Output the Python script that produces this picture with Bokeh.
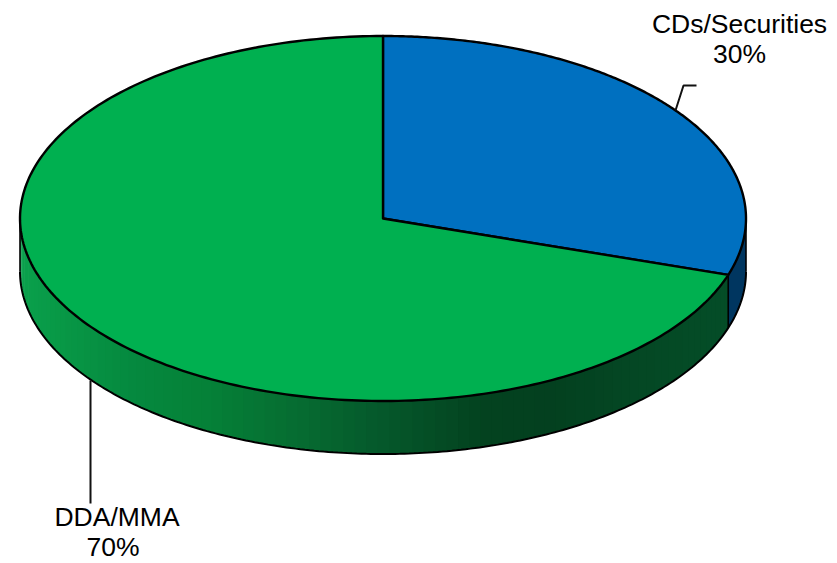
import numpy as np
from bokeh.embed import file_html
from bokeh.resources import INLINE
from bokeh.plotting import figure
from bokeh.core.properties import value

# Portfolio shares, clockwise from twelve o'clock
categories = ["CDs/Securities", "DDA/MMA"]
shares = [30, 70]
label_texts = ["CDs/Securities\n30%", "DDA/MMA\n70%"]
top_colors = ["#0070C0", "#00B050"]
outline = "#000000"

# Shading of the green rim, from the left edge of the disc to the right edge
rim_stop_x = [20, 60, 130, 200, 300, 380, 480, 550, 640, 746]
rim_stop_rgb = [
    (10, 160, 76), (8, 152, 70), (5, 137, 63), (5, 130, 56), (6, 107, 49),
    (5, 88, 43), (3, 66, 31), (3, 64, 31), (4, 72, 36), (4, 78, 40),
]
blue_rim = "#003660"

# Disc geometry on the page
cx, cy, rx, ry, depth = 382.5, 218.0, 363.0, 182.5, 53.0


def rim_point(turn):
    """Position on the top ellipse for a clockwise turn from twelve o'clock."""
    t = np.radians(turn)
    return cx + rx * np.sin(t), cy - ry * np.cos(t)


def arc(start, end, n=240):
    return rim_point(np.linspace(start, end, n))


def rim_color(x):
    channels = [np.interp(x, rim_stop_x, [c[i] for c in rim_stop_rgb]) for i in range(3)]
    return "#%02x%02x%02x" % tuple(int(round(c)) for c in channels)


p = figure(width=837, height=563, x_range=(0, 837), y_range=(563, 0),
           output_backend="svg", toolbar_location=None, min_border=0)
p.axis.visible = False
p.grid.visible = False
p.outline_line_color = None
p.background_fill_color = "#ffffff"
p.border_fill_color = "#ffffff"

edges = np.cumsum([0] + shares) * 3.6
split = edges[1]

# Blue part of the rim, visible between the slice boundary and the right edge
xs, ys = arc(90, split)
p.patch(np.r_[xs, xs[::-1]], np.r_[ys, ys[::-1] + depth],
        fill_color=blue_rim, line_color=None)

# Green rim as narrow vertical strips so the shading follows the x position
strip_edges = np.linspace(split, 270, 90)
for a, b in zip(strip_edges[:-1], strip_edges[1:]):
    xs, ys = arc(a, min(b + 0.5, 270), 6)
    p.patch(np.r_[xs, xs[::-1]], np.r_[ys, ys[::-1] + depth],
            fill_color=rim_color(xs.mean()), line_color=None)

# Lower outline and vertical edges of the rim
xs, ys = arc(90, 270)
p.line(xs, ys + depth, line_color=outline, line_width=2)
for turn in (90, split, 270):
    x, y = rim_point(turn)
    p.line([x, x], [y, y + depth], line_color=outline, line_width=1.6)

# Top faces of the slices
for start, end, color in zip(edges[:-1], edges[1:], top_colors):
    xs, ys = arc(start, end)
    p.patch(np.r_[cx, xs], np.r_[cy, ys], fill_color=color,
            line_color=outline, line_width=2.4, line_join="round")

# Leader lines
p.line([675, 683, 696], [110, 85, 85], line_color="#111111", line_width=2)
p.line([90, 90], [380, 503], line_color="#111111", line_width=2)

# Labels, two lines each
p.text([739, 739], [23, 53], text=label_texts[0].split("\n"),
       text_align="center", text_baseline="middle", text_color="#000000",
       text_font=value("Liberation Sans"), text_font_size="26.5px")
p.text([116.5, 112.5], [516, 546], text=label_texts[1].split("\n"),
       text_align="center", text_baseline="middle", text_color="#000000",
       text_font=value("Liberation Sans"), text_font_size="26.5px")

open("out.html", "w").write(file_html(p, INLINE))
